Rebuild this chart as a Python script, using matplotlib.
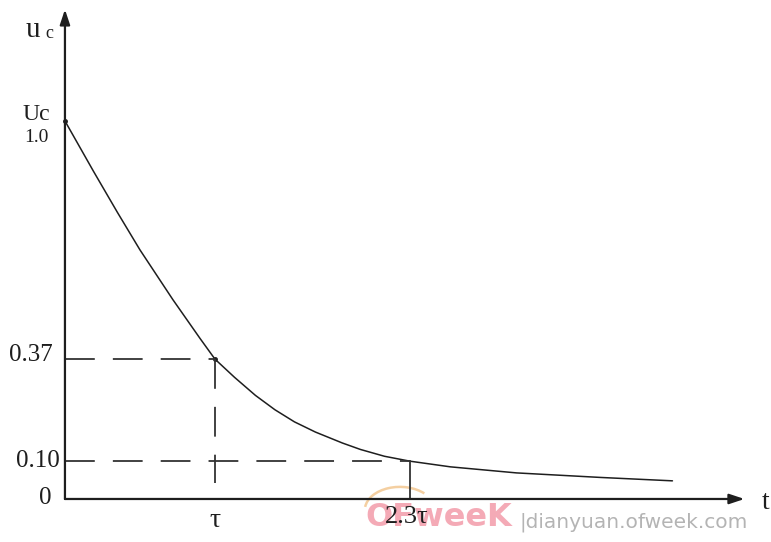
import matplotlib
matplotlib.use("Agg")
import matplotlib.pyplot as plt
from matplotlib.patches import Arc

# Capacitor discharge curve u_c(t), time in units of tau
t_vals = [0.0, 0.19, 0.35, 0.50, 0.72, 0.90, 1.0, 1.13, 1.27, 1.40, 1.53,
          1.67, 1.85, 1.97, 2.13, 2.3, 2.57, 3.01, 3.57, 4.05]
u_vals = [1.0, 0.867, 0.758, 0.659, 0.527, 0.425, 0.37, 0.322, 0.274, 0.236, 0.204,
          0.177, 0.148, 0.131, 0.113, 0.10, 0.085, 0.069, 0.057, 0.048]

# Marked reference points
tau_marks = [1.0, 2.3]
u_marks = [0.37, 0.10]
tau_labels = ["τ", "2.3τ"]

serif = ["Liberation Serif", "DejaVu Serif"]
ink = "#1e1e1e"

fig = plt.figure(figsize=(7.71, 5.42), dpi=100)
ax = fig.add_axes([0, 0, 1, 1])
ax.set_xlim(-0.433, 4.707)
ax.set_ylim(-0.1138, 1.320)
ax.axis("off")

# Axes with arrowheads
arrow_kw = dict(arrowstyle="-|>,head_length=0.9,head_width=0.3", color=ink,
                lw=1.6, shrinkA=0, shrinkB=0)
ax.annotate("", xy=(4.53, 0), xytext=(0, 0), arrowprops=arrow_kw)
ax.annotate("", xy=(0, 1.295), xytext=(0, 0), arrowprops=arrow_kw)

# Decay curve
ax.plot(t_vals, u_vals, color=ink, lw=1.1, solid_capstyle="round",
        solid_joinstyle="round")
ax.plot([0, tau_marks[0]], [1.0, u_marks[0]], ls="none", marker="o", ms=2.5,
        color=ink)

# Dashed guide lines
dash = dict(color="#333333", lw=1.3, dashes=(16.5, 10))
ax.plot([0, tau_marks[0]], [u_marks[0], u_marks[0]], **dash)
ax.plot([tau_marks[0], tau_marks[0]], [u_marks[0], 0.042], **dash)
ax.plot([0, tau_marks[1]], [u_marks[1], u_marks[1]], **dash)
ax.plot([tau_marks[1], tau_marks[1]], [u_marks[1], 0.0], color="#333333", lw=1.3)

# Site mark (drawn beneath the labels)
ax.add_patch(Arc((2.233, -0.029), 0.467, 0.122, theta1=15, theta2=178,
                 color="#f2c48a", lw=1.8, alpha=0.8, zorder=1))
ax.text(2.49, -0.048, "OFweeK", ha="center", va="center", fontsize=23,
        fontweight="bold", family=["DejaVu Sans"], color="#f295a4",
        alpha=0.8, zorder=1)
ax.text(3.033, -0.061, "|dianyuan.ofweek.com", ha="left", va="center",
        fontsize=14.5, family=["DejaVu Sans"], color="#b4b4b4", zorder=1)

# Value labels on the vertical axis
txt = dict(family=serif, color=ink, va="center", zorder=3)
ax.text(-0.08, 0.381, "0.37", ha="right", fontsize=18, **txt)
ax.text(-0.033, 0.10, "0.10", ha="right", fontsize=18, **txt)
ax.text(-0.133, 0.003, "0", ha="center", fontsize=18, **txt)
ax.text(-0.187, 0.955, "1.0", ha="center", fontsize=14, **txt)
ax.text(-0.193, 1.016, "Uc", ha="center", fontsize=17, **txt)

# Time labels
ax.text(tau_marks[0], -0.056, tau_labels[0], ha="center", fontsize=20, **txt)
ax.text(tau_marks[1] - 0.02, -0.048, tau_labels[1], ha="center", fontsize=19, **txt)
ax.text(4.673, -0.008, "t", ha="center", fontsize=20, **txt)

# Vertical axis name u_c
ax.text(-0.213, 1.241, "u", ha="center", fontsize=21, **txt)
ax.text(-0.107, 1.232, "c", ha="center", fontsize=13, **txt)

fig.savefig("out.png", dpi=100)
